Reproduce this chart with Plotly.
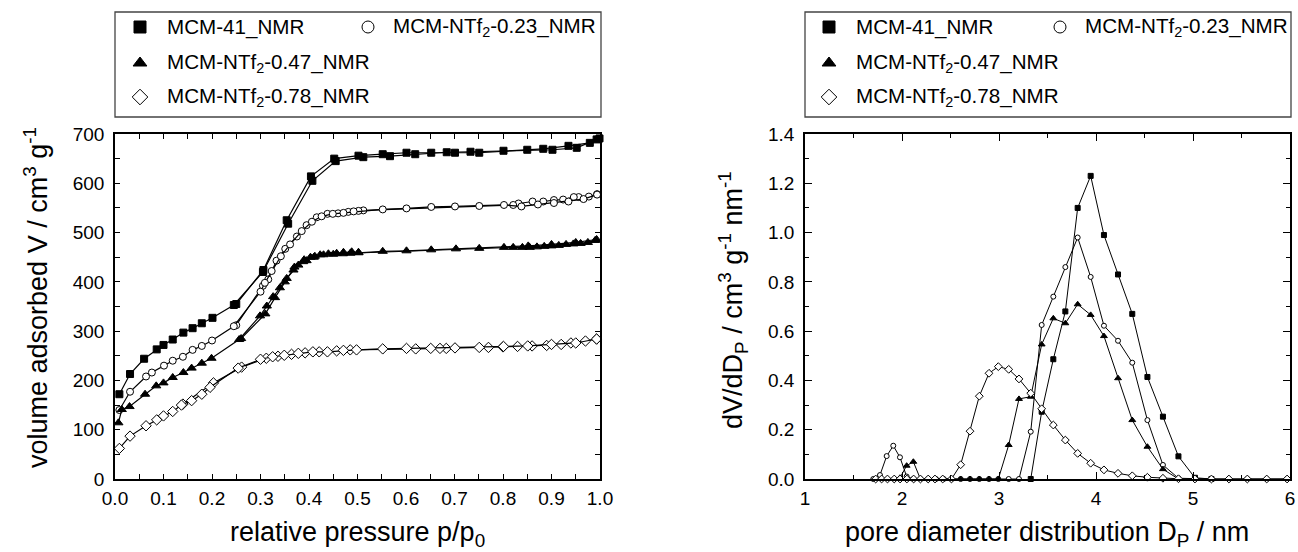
import plotly.graph_objects as go

W, H = 1298, 552
FONT = "Liberation Sans, Arial, sans-serif"

# ---------------- Left panel: isotherms (adsorption / desorption) ----------------
p41_ads = [0.009,0.031,0.06,0.086,0.10,0.119,0.141,0.16,0.179,0.201,0.245,0.305,0.357,0.407,0.455,0.512,0.567,0.619,0.684,0.733,0.801,0.850,0.902,0.952,0.993]
v41_ads = [172,213,244,263,272,283,297,306,316,327,353,420,518,605,645,653,655,659,663,664,666,668,668,672,689]
p41_des = [0.999,0.979,0.935,0.883,0.751,0.701,0.652,0.601,0.552,0.502,0.452,0.404,0.354,0.306,0.25]
v41_des = [691,682,676,670,662,662,662,662,659,656,650,614,525,424,355]

p23_ads = [0.009,0.031,0.064,0.076,0.101,0.119,0.140,0.160,0.179,0.200,0.245,0.300,0.309,0.323,0.342,0.361,0.385,0.406,0.426,0.449,0.471,0.492,0.552,0.601,0.652,0.701,0.751,0.802,0.838,0.872,0.905,0.935,0.966,0.994]
v23_ads = [140,177,208,216,230,240,248,262,270,281,310,380,398,422,452,476,503,522,533,538,540,543,547,549,552,553,554,556,553,557,560,563,568,577]
p23_des = [0.994,0.977,0.956,0.946,0.924,0.905,0.883,0.861,0.832,0.821,0.512,0.502,0.481,0.46,0.438,0.416,0.395,0.375,0.351,0.333,0.316,0.305,0.25]
v23_des = [578,573,572,572,567,566,563,563,559,556,545,544,542,539,538,531,515,492,467,443,405,392,312]

p47_ads = [0.007,0.014,0.03,0.062,0.085,0.10,0.119,0.141,0.158,0.179,0.199,0.256,0.299,0.313,0.326,0.340,0.354,0.368,0.378,0.388,0.395,0.403,0.412,0.423,0.44,0.457,0.471,0.488,0.502,0.552,0.601,0.652,0.703,0.751,0.802,0.852,0.9,0.95,0.993]
v47_ads = [114,141,147,172,189,195,206,216,225,235,245,283,331,351,370,388,407,424,434,441,443,450,452,455,457,458,460,461,459,462,463,465,467,468,470,473,476,480,486]
p47_des = [0.99,0.975,0.96,0.945,0.93,0.915,0.9,0.885,0.87,0.855,0.84,0.821,0.502,0.485,0.47,0.45,0.43,0.41,0.39,0.37,0.35,0.33,0.31,0.26]
v47_des = [484,480,478,477,476,474,473,472,471,470,470,470,460,458,457,456,455,450,445,430,400,368,335,285]

p78_ads = [0.009,0.031,0.064,0.086,0.10,0.119,0.137,0.158,0.179,0.196,0.254,0.300,0.325,0.349,0.378,0.408,0.438,0.471,0.498,0.552,0.601,0.651,0.701,0.751,0.801,0.851,0.9,0.95,0.993]
v78_ads = [62,87,108,120,128,137,150,159,172,186,225,243,248,251,255,258,258,261,262,264,265,265,266,267,269,270,273,276,284]
p78_des = [0.993,0.97,0.94,0.92,0.89,0.86,0.83,0.8,0.77,0.683,0.67,0.62,0.485,0.457,0.421,0.392,0.364,0.336,0.312,0.261,0.203,0.14]
v78_des = [284,280,276,273,271,270,269,268,267,265,265,264,262,260,258,256,253,249,245,227,195,152]

# ---------------- Right panel: pore size distributions ----------------
d41 = [3.327,3.44,3.56,3.684,3.811,3.945,4.082,4.227,4.374,4.53,4.69,4.85,5.02,5.19]
q41 = [0.0,0.273,0.486,0.68,1.10,1.23,0.99,0.83,0.67,0.414,0.253,0.092,0.005,0.0]

d23 = [1.704,1.773,1.842,1.91,1.979,2.048,2.117,2.19,2.27,2.35,2.43,2.51,2.605,2.701,2.797,2.897,2.993,3.10,3.206,3.327,3.44,3.56,3.684,3.811,3.945,4.082,4.227,4.374,4.53,4.69,4.85,5.02,5.19,5.37,5.56,5.76,5.97]
q23 = [0.0,0.016,0.093,0.135,0.088,0.01,0.0,0.0,0.0,0.0,0.0,0.0,0.0,0.0,0.0,0.0,0.0,0.0,0.0,0.192,0.625,0.74,0.86,0.98,0.82,0.622,0.561,0.472,0.239,0.057,0.003,0.0,0.0,0.0,0.0,0.0,0.0]

d47 = [1.979,2.048,2.117,2.19,2.27,2.35,2.43,2.51,2.605,2.701,2.797,2.897,2.993,3.10,3.206,3.327,3.44,3.56,3.684,3.811,3.945,4.082,4.227,4.374,4.53,4.69,4.85]
q47 = [0.005,0.054,0.07,0.0,0.0,0.0,0.0,0.0,0.0,0.0,0.0,0.0,0.0,0.138,0.325,0.334,0.546,0.652,0.632,0.709,0.666,0.58,0.409,0.239,0.131,0.04,0.0]

d78 = [1.729,1.79,1.85,1.92,1.98,2.05,2.12,2.19,2.27,2.34,2.42,2.51,2.605,2.701,2.797,2.897,2.993,3.10,3.206,3.327,3.44,3.56,3.684,3.811,3.945,4.082,4.227,4.374,4.53,4.69,4.85,5.02,5.19,5.37,5.56,5.76,5.97]
q78 = [0.0,0.0,0.0,0.0,0.0,0.0,0.0,0.0,0.0,0.0,0.0,0.0,0.058,0.194,0.336,0.429,0.456,0.445,0.406,0.348,0.285,0.219,0.158,0.104,0.064,0.037,0.023,0.013,0.007,0.003,0.001,0.0,0.0,0.0,0.0,0.0,0.0]

labels = ["MCM-41_NMR", "MCM-NTf<sub>2</sub>-0.23_NMR", "MCM-NTf<sub>2</sub>-0.47_NMR", "MCM-NTf<sub>2</sub>-0.78_NMR"]

STY = [
    dict(symbol="square", color="black", line=dict(color="black", width=1)),
    dict(symbol="circle", color="white", line=dict(color="black", width=1)),
    dict(symbol="triangle-up", color="black", line=dict(color="black", width=1)),
    dict(symbol="diamond", color="white", line=dict(color="black", width=1)),
]
LSIZE = [7, 7, 8, 8]
RSIZE = [5, 5, 6, 6]

fig = go.Figure()

left_sets = [(p41_ads, v41_ads, p41_des, v41_des), (p23_ads, v23_ads, p23_des, v23_des),
             (p47_ads, v47_ads, p47_des, v47_des), (p78_ads, v78_ads, p78_des, v78_des)]
for i, (xa, ya, xd, yd) in enumerate(left_sets):
    for xx, yy in ((xd, yd), (xa, ya)):
        fig.add_trace(go.Scatter(x=xx, y=yy, mode="lines+markers", xaxis="x", yaxis="y",
                                 line=dict(color="black", width=1.2),
                                 marker=dict(size=LSIZE[i], **STY[i]),
                                 cliponaxis=False, showlegend=False, hoverinfo="skip"))

right_sets = [(d41, q41), (d23, q23), (d47, q47), (d78, q78)]
for i, (xx, yy) in enumerate(right_sets):
    fig.add_trace(go.Scatter(x=xx, y=yy, mode="lines+markers", xaxis="x2", yaxis="y2",
                             line=dict(color="black", width=1),
                             marker=dict(size=RSIZE[i], **STY[i]),
                             cliponaxis=False, showlegend=False, hoverinfo="skip"))

# ---------------- manual legends (pixel layout) ----------------
leg_boxes = [(115, 601), (805, 1291)]
leg_rows = [27, 63, 97]
leg_items = [
    [(140, 165, 0), (368, 391, 0), (140, 165, 1), (140, 165, 2)],
    [(829, 854, 0), (1060, 1083, 0), (829, 854, 1), (829, 854, 2)],
]
for b, (x0, x1) in enumerate(leg_boxes):
    fig.add_shape(type="rect", xref="paper", yref="paper",
                  x0=x0 / W, x1=x1 / W, y0=1 - 117 / H, y1=1 - 12 / H,
                  line=dict(color="#444444", width=1.3), fillcolor="rgba(0,0,0,0)")
    for i, (mx, tx, r) in enumerate(leg_items[b]):
        fig.add_trace(go.Scatter(x=[mx], y=[leg_rows[r]], mode="markers", xaxis="x3", yaxis="y3",
                                 marker=dict(size=12, **STY[i]), showlegend=False, hoverinfo="skip"))
        fig.add_annotation(x=tx / W, y=1 - leg_rows[r] / H, xref="paper", yref="paper",
                           text=labels[i], showarrow=False, xanchor="left", yanchor="middle",
                           font=dict(family=FONT, size=20.6, color="black"))

titles = [
    (357, 534, 0, "relative pressure p/p<sub>0</sub>"),
    (1047, 534, 0, "pore diameter distribution D<sub>P</sub> / nm"),
    (36, 298, -90, "volume adsorbed V / cm<sup>3</sup> g<sup>-1</sup>"),
    (733, 300, -90, "dV/dD<sub>P</sub> / cm<sup>3</sup> g<sup>-1</sup> nm<sup>-1</sup>"),
]
for tx, ty, ang, t in titles:
    fig.add_annotation(x=tx / W, y=1 - ty / H, xref="paper", yref="paper", text=t,
                       showarrow=False, textangle=ang, xanchor="center", yanchor="middle",
                       font=dict(family=FONT, size=27, color="black"))

yb, yt = 1 - 479 / H, 1 - 134 / H
common = dict(showline=True, linecolor="black", linewidth=1.6, mirror="ticks", ticks="inside",
              tickcolor="black", tickwidth=1.4, showgrid=False, zeroline=False,
              tickfont=dict(family=FONT, size=19, color="black"))
fig.update_layout(
    width=W, height=H, margin=dict(l=0, r=0, t=0, b=0, autoexpand=False),
    paper_bgcolor="white", plot_bgcolor="rgba(0,0,0,0)",
    xaxis=dict(domain=[115 / W, 600 / W], range=[0, 1.0], dtick=0.1, tick0=0, tickformat=".1f",
               ticklen=5, minor=dict(dtick=0.05, ticks="inside", ticklen=5), anchor="y",
               ticklabelstandoff=1, automargin=False, **common),
    yaxis=dict(domain=[yb, yt], range=[0, 700], dtick=100, tick0=0, ticklen=5,
               minor=dict(dtick=50, ticks="inside", ticklen=5), anchor="x",
               ticklabelstandoff=5, automargin=False, **common),
    xaxis2=dict(domain=[805 / W, 1290 / W], range=[1, 6], dtick=1, tick0=0, ticklen=7,
                minor=dict(dtick=0.5, ticks="inside", ticklen=4), anchor="y2",
                ticklabelstandoff=1, automargin=False, **common),
    yaxis2=dict(domain=[yb, yt], range=[0, 1.4], dtick=0.2, tick0=0, tickformat=".1f", ticklen=7,
                minor=dict(dtick=0.1, ticks="inside", ticklen=4), anchor="x2",
                ticklabelstandoff=5, automargin=False, **common),
    xaxis3=dict(domain=[0, 1], range=[0, W], visible=False, anchor="y3", fixedrange=True),
    yaxis3=dict(domain=[0, 1], range=[H, 0], visible=False, anchor="x3", fixedrange=True),
)

fig.write_html("out.html",
               post_script="document.body.style.margin='0px';document.body.style.padding='0px';"
                           "document.body.style.overflow='hidden';")
